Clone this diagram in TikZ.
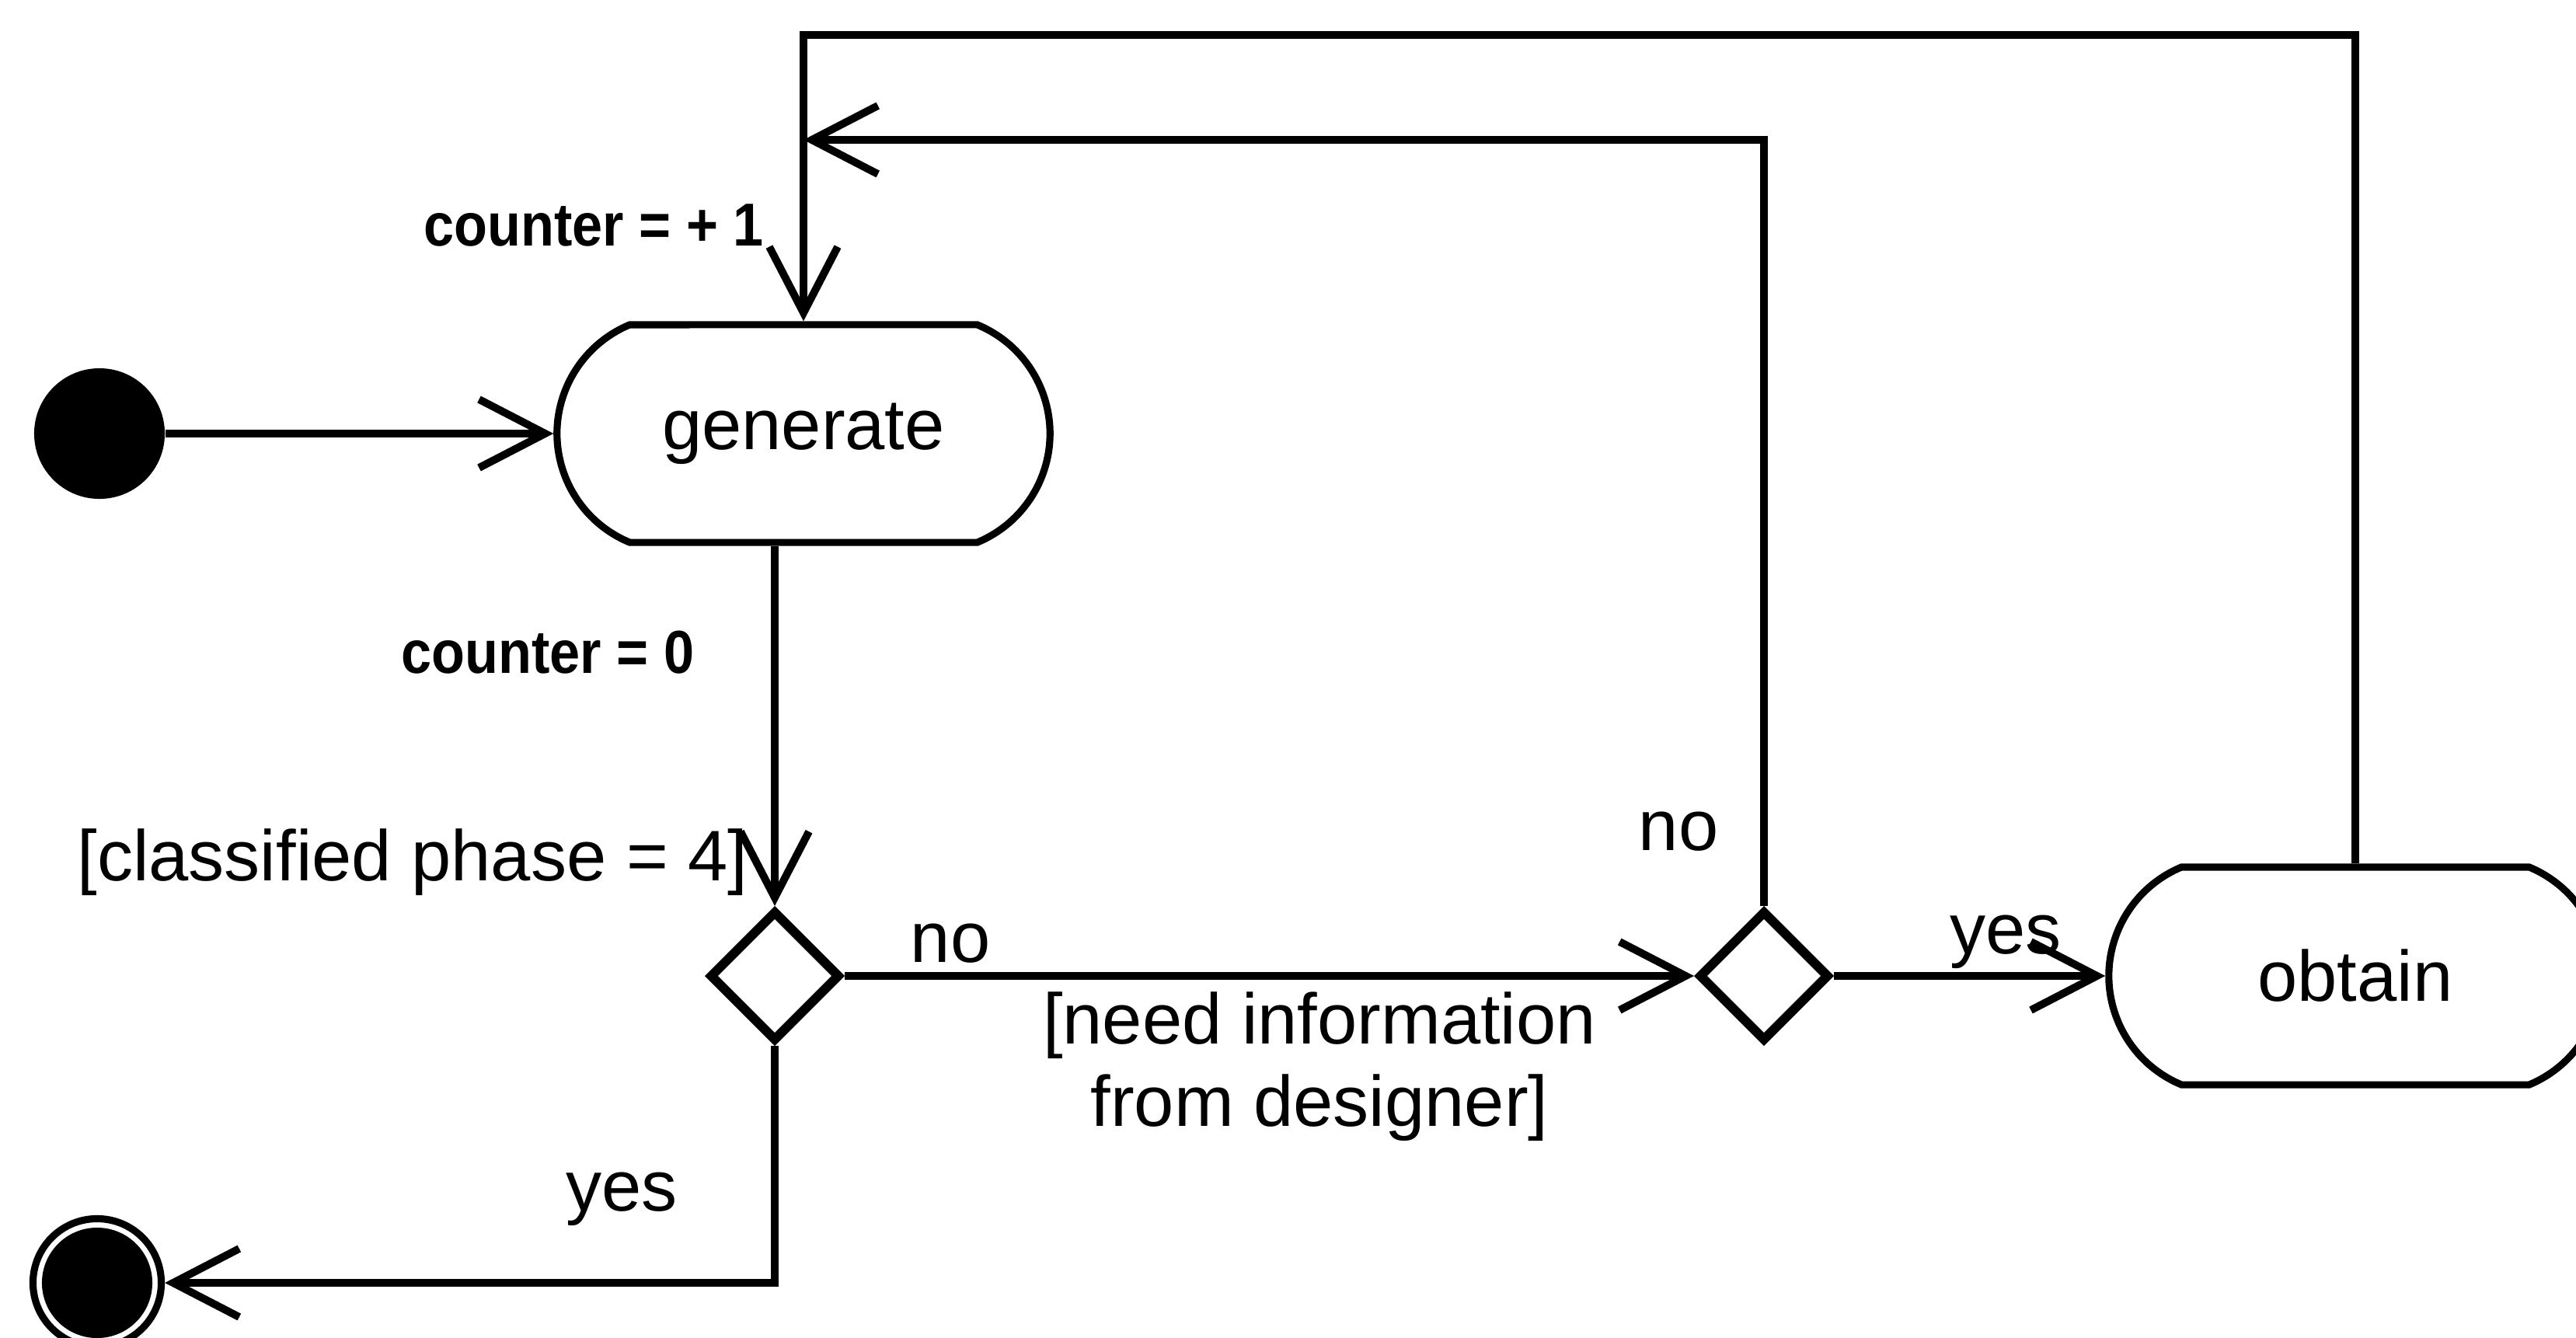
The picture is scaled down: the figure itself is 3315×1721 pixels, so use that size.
\documentclass[tikz,border=0pt]{standalone}
\usepackage{fontspec}
\setmainfont{Liberation Sans}
\newfontfamily\labelfont[FakeStretch=0.9]{Liberation Sans}
\usetikzlibrary{arrows.meta,shapes.geometric,shapes.misc}

\begin{document}
\begin{tikzpicture}[x=0.01cm,y=-0.01cm,
  conn/.style={line width=2.8pt, -{Straight Barb[length=0.85cm,width=0.88cm]}},
  activity/.style={rounded rectangle, rounded rectangle arc length=135, draw,
    line width=2.6pt, minimum width=6.34cm, minimum height=2.8cm, inner sep=0pt,
    font=\fontsize{26.2pt}{31pt}\selectfont},
  decision/.style={diamond, draw, line width=3.4pt, aspect=1,
    minimum width=1.68cm, minimum height=1.68cm, inner sep=0pt},
  guard/.style={font=\fontsize{26.2pt}{30.2pt}\selectfont, inner sep=0pt},
  action/.style={font=\fontsize{22.2pt}{26pt}\labelfont\bfseries, inner sep=0pt},
  startstate/.style={circle, fill=black, minimum size=1.68cm, inner sep=0pt},
  endstate/.style={circle, draw, line width=2.6pt, minimum size=1.65cm, inner sep=0pt,
    path picture={\fill (path picture bounding box.center) circle (0.71cm);}},
]
\useasboundingbox (0,0) rectangle (3315,1721);

% states and decisions
\node[startstate] (init) at (128,558) {};
\node[activity] (gen) at (1034,558) {generate};
\node[decision] (d1) at (997,1256) {};
\node[decision] (d2) at (2270,1256) {};
\node[activity] (obt) at (3031,1256) {obtain};
\node[endstate] (final) at (125,1651) {};

% junction points of the two loops
\coordinate (jn) at (1034,180);
\coordinate (ret) at (1034,45);

% transitions
\draw[conn] (init) -- (gen);
\draw[conn] (d1 |- gen.south) -- (d1.north);
\draw[conn] (d1.east) -- (d2.west);
\draw[conn] (d2.east) -- (obt.west);
\draw[conn] (d2.north) |- (jn);
\draw[conn] (obt.north) |- (ret) -- (gen.north);
\draw[conn] (d1.south) |- (final);

% transition labels
\node[action, anchor=base] (l1) at (764,316) {counter = + 1};
\node[action, anchor=base] (l2) at (705,866) {counter = 0};
\node[guard, anchor=base] (l3) at (531,1133) {[classified phase = 4]};
\node[guard, anchor=base] (l4) at (1223,1238) {no};
\node[guard, align=center] (l5) at (1698,1373) {[need information\\from designer]};
\node[guard, anchor=base] (l6) at (2160,1094) {no};
\node[guard, anchor=base] (l7) at (2581,1227) {yes};
\node[guard, anchor=base] (l8) at (800,1558) {yes};
\end{tikzpicture}
\end{document}
